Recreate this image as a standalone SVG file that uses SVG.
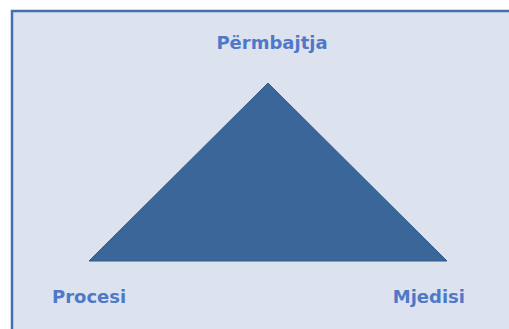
<svg xmlns="http://www.w3.org/2000/svg" width="509" height="329" viewBox="0 0 509 329">
<style>
.lbl{font-family:"DejaVu Sans","Liberation Sans",sans-serif;font-weight:bold;font-size:18px;fill:#4f78c8;}
</style>
<rect x="0" y="0" width="509" height="329" fill="#ffffff"/>
<g id="frame">
<rect x="12" y="11" width="520" height="340" fill="#dde3ee" stroke="#4570ae" stroke-width="2.5"/>
</g>
<g id="triangle">
<polygon points="268,83 89,261 447,261" fill="#3b6699" stroke="#2f5a8e" stroke-width="1"/>
</g>
<g id="permbajtja"><text class="lbl" x="272" y="49" text-anchor="middle">Përmbajtja</text></g>
<g id="procesi"><text class="lbl" x="52" y="303">Procesi</text></g>
<g id="mjedisi"><text class="lbl" x="465" y="303" text-anchor="end">Mjedisi</text></g>
</svg>
